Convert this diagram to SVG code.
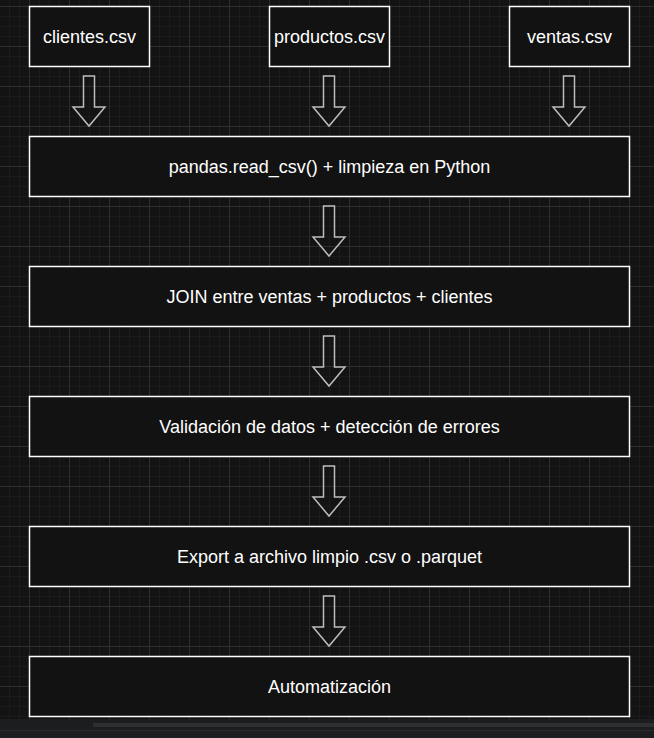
<svg xmlns="http://www.w3.org/2000/svg" width="654" height="738" viewBox="0 0 654 738">
  <defs>
    <style>
      .box { fill: #121212; stroke: #ffffff; stroke-width: 1.5; }
      .lbl { fill: #ffffff; font-family: "Liberation Sans", Arial, sans-serif; font-size: 18px; text-anchor: middle; }
      .arr { fill: none; stroke: #bdbdbd; stroke-width: 1.5; stroke-linejoin: miter; }
    </style>
    <pattern id="minor" x="29" y="6" width="10" height="10" patternUnits="userSpaceOnUse">
      <path d="M0 0.5H10M0.5 0V10" stroke="#1b1b1b" stroke-width="1" fill="none"/>
    </pattern>
    <pattern id="major" x="29" y="6" width="40" height="40" patternUnits="userSpaceOnUse">
      <path d="M0 0.5H40M0.5 0V40" stroke="#2e2e2e" stroke-width="1" fill="none"/>
    </pattern>
    <path id="ar" d="M-5.5 0H5.5V31H16L0 50L-16 31H-5.5Z"/>
  </defs>
  <rect width="654" height="738" fill="#131313"/>
  <rect width="654" height="719" fill="url(#minor)"/>
  <rect width="654" height="719" fill="url(#major)"/>
  <rect x="0" y="719" width="654" height="19" fill="#1c1d1f"/>
  <rect x="93" y="723" width="561" height="4" fill="#2e2f31"/>
  <rect x="0" y="730" width="654" height="1" fill="#2a2b2d"/>

  <g id="connectors">
    <use href="#ar" class="arr" x="89" y="76"/>
    <use href="#ar" class="arr" x="329" y="76"/>
    <use href="#ar" class="arr" x="569" y="76"/>
    <use href="#ar" class="arr" x="329" y="206"/>
    <use href="#ar" class="arr" x="329" y="336"/>
    <use href="#ar" class="arr" x="329" y="466"/>
    <use href="#ar" class="arr" x="329" y="596"/>
  </g>

  <g id="clientes">
    <rect class="box" x="29.5" y="6.5" width="120" height="60"/>
    <text class="lbl" x="89.5" y="42.5">clientes.csv</text>
  </g>
  <g id="productos">
    <rect class="box" x="269.5" y="6.5" width="120" height="60"/>
    <text class="lbl" x="329.5" y="42.5">productos.csv</text>
  </g>
  <g id="ventas">
    <rect class="box" x="509.5" y="6.5" width="120" height="60"/>
    <text class="lbl" x="569.5" y="42.5">ventas.csv</text>
  </g>
  <g id="read">
    <rect class="box" x="29.5" y="136.5" width="600" height="60"/>
    <text class="lbl" x="329.5" y="172.5">pandas.read_csv() + limpieza en Python</text>
  </g>
  <g id="join">
    <rect class="box" x="29.5" y="266.5" width="600" height="60"/>
    <text class="lbl" x="329.5" y="302.5">JOIN entre ventas + productos + clientes</text>
  </g>
  <g id="validacion">
    <rect class="box" x="29.5" y="396.5" width="600" height="60"/>
    <text class="lbl" x="329.5" y="432.5">Validación de datos + detección de errores</text>
  </g>
  <g id="export">
    <rect class="box" x="29.5" y="526.5" width="600" height="60"/>
    <text class="lbl" x="329.5" y="562.5">Export a archivo limpio .csv o .parquet</text>
  </g>
  <g id="automatizacion">
    <rect class="box" x="29.5" y="656.5" width="600" height="60"/>
    <text class="lbl" x="329.5" y="692.5">Automatización</text>
  </g>
</svg>
